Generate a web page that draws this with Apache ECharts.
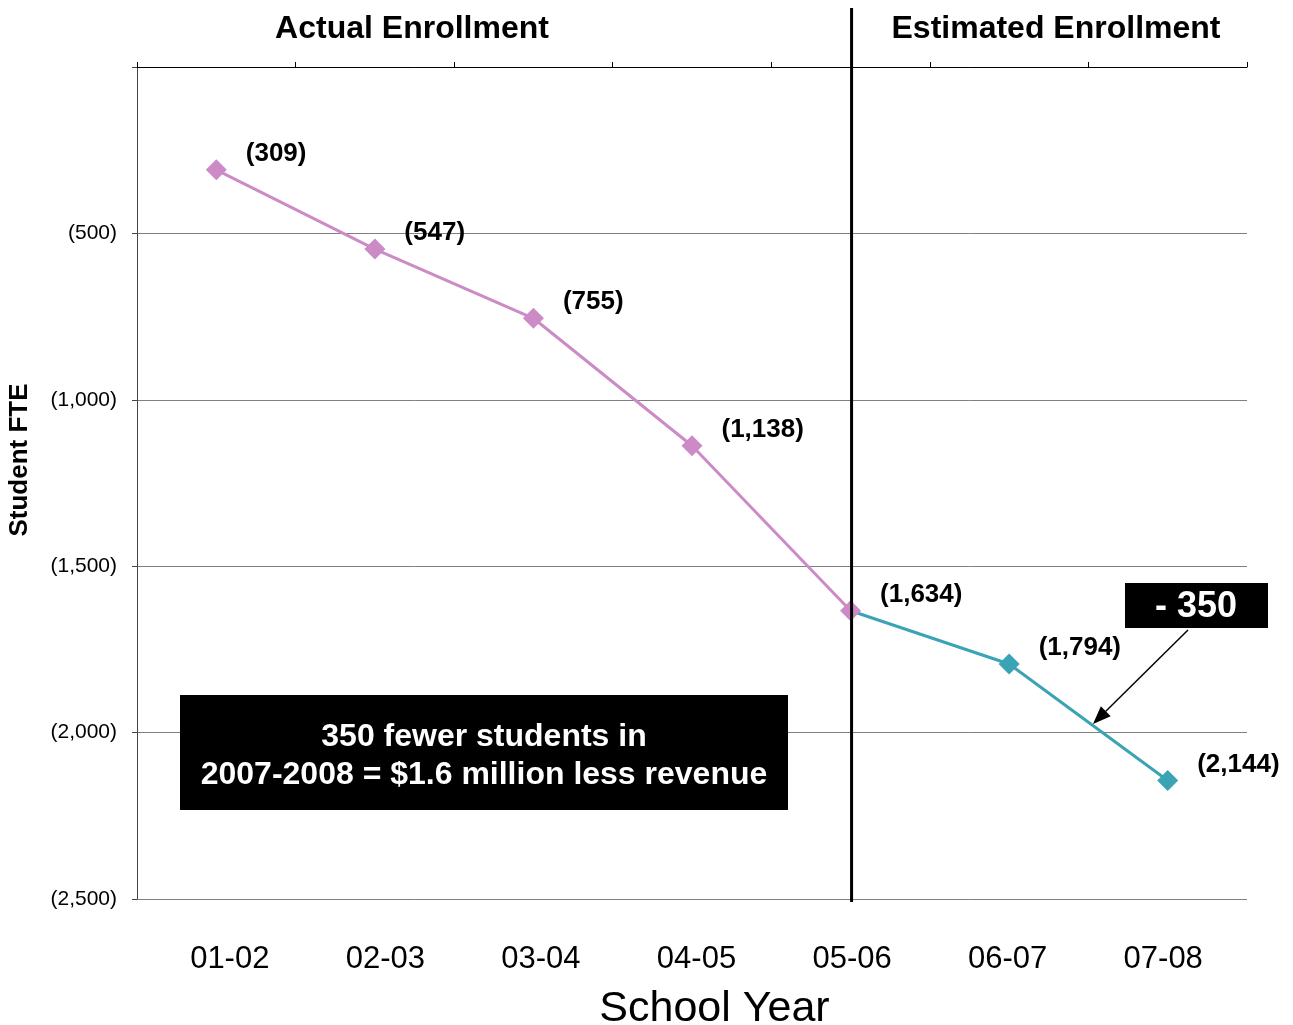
<!DOCTYPE html>
<html>
<head>
<meta charset="utf-8">
<script src="https://cdn.jsdelivr.net/npm/echarts@6/dist/echarts.min.js"></script>
<style>html,body{margin:0;padding:0;background:#fff;}#c{width:1293px;height:1025px;}</style>
</head>
<body>
<div id="c"></div>
<script>
const categories = ['01-02','02-03','03-04','04-05','05-06','06-07','07-08'];
const actualValues = [-309, -547, -755, -1138, -1634];
const estimatedValues = [-1794, -2144];
const yTicks = { min: -2500, max: 0, interval: 500 };

const FONT = '"Liberation Sans", Arial, sans-serif';
const fmt = v => '(' + Math.abs(v).toLocaleString('en-US') + ')';

const actualData = categories.map((c, i) => i < actualValues.length ? actualValues[i] : null);
const joinIdx = actualValues.length - 1;
const estimatedData = categories.map((c, i) => {
  if (i < joinIdx) return null;
  if (i === joinIdx) return { value: actualValues[joinIdx], symbol: 'none', label: { show: false } };
  return estimatedValues[i - actualValues.length];
});

const chart = echarts.init(document.getElementById('c'));
const labelStyle = {
  show: true, position: 'right', distance: 5, offset: [14, -16],
  formatter: p => fmt(p.value), fontFamily: FONT, fontWeight: 'bold', fontSize: 26, color: '#000'
};
chart.setOption({
  animation: false,
  backgroundColor: '#fff',
  grid: [
    { left: 137, right: 46, top: 67, bottom: 126, outerBoundsMode: 'none', containLabel: false },
    { left: 152, right: 52, top: 67, bottom: 126, outerBoundsMode: 'none', containLabel: false }
  ],
  xAxis: [
    { type: 'category', gridIndex: 0, data: categories, position: 'top', boundaryGap: true,
      axisLine: { show: true, lineStyle: { color: '#000', width: 1 } },
      axisTick: { show: true, inside: false, length: 5, lineStyle: { color: '#000' } },
      axisLabel: { show: false }, splitLine: { show: false } },
    { type: 'category', gridIndex: 1, data: categories, position: 'bottom',
      axisLine: { show: false }, axisTick: { show: false }, splitLine: { show: false },
      axisLabel: { margin: 45, fontFamily: FONT, fontSize: 31, color: '#000' },
      name: 'School Year', nameLocation: 'middle', nameGap: 89,
      nameTextStyle: { fontFamily: FONT, fontSize: 43, color: '#000', padding: [0, 0, 0, 36] } }
  ],
  yAxis: [
    { type: 'value', gridIndex: 0, min: yTicks.min, max: yTicks.max, interval: yTicks.interval,
      axisLine: { show: true, lineStyle: { color: '#444', width: 1 } },
      axisTick: { show: true, inside: false, length: 5, lineStyle: { color: '#444' } },
      axisLabel: { margin: 20, fontFamily: FONT, fontSize: 21, color: '#000',
        formatter: v => v === 0 ? '' : fmt(v) },
      splitLine: { show: true, lineStyle: { color: '#808080', width: 1 } } },
    { type: 'value', gridIndex: 1, min: yTicks.min, max: yTicks.max, show: false }
  ],
  series: [
    { name: 'Estimated', type: 'line', xAxisIndex: 0, yAxisIndex: 0, data: estimatedData,
      z: 2, symbol: 'diamond', symbolSize: 21, connectNulls: false,
      lineStyle: { color: '#3BA4B4', width: 3 }, itemStyle: { color: '#3BA4B4' },
      label: labelStyle },
    { name: 'Actual', type: 'line', xAxisIndex: 0, yAxisIndex: 0, data: actualData,
      z: 3, symbol: 'diamond', symbolSize: 21,
      lineStyle: { color: '#CC8BC6', width: 3 }, itemStyle: { color: '#CC8BC6' },
      label: labelStyle }
  ]
});

const divX = chart.convertToPixel({ xAxisIndex: 0 }, categories[joinIdx]) + 1;
const tip = [1093, 724], tail = [1188, 630];
const dx = tip[0] - tail[0], dy = tip[1] - tail[1], L = Math.hypot(dx, dy);
const ux = dx / L, uy = dy / L, hl = 18, hw = 7;
const bx = tip[0] - ux * hl, by = tip[1] - uy * hl;
chart.setOption({
  graphic: [
    { type: 'line', shape: { x1: divX, y1: 8, x2: divX, y2: 902 }, style: { stroke: '#000', lineWidth: 3 }, z: 10 },
    { type: 'text', x: 412, y: 29, style: { text: 'Actual Enrollment', fontFamily: FONT, fontSize: 32, fontWeight: 'bold', fill: '#000', align: 'center', verticalAlign: 'middle' } },
    { type: 'text', x: 1056, y: 29, style: { text: 'Estimated Enrollment', fontFamily: FONT, fontSize: 32, fontWeight: 'bold', fill: '#000', align: 'center', verticalAlign: 'middle' } },
    { type: 'text', x: 20, y: 460, rotation: Math.PI / 2, style: { text: 'Student FTE', fontFamily: FONT, fontSize: 26, fontWeight: 'bold', fill: '#000', align: 'center', verticalAlign: 'middle' } },
    { type: 'rect', shape: { x: 180, y: 695, width: 608, height: 115 }, style: { fill: '#000' }, z: 20 },
    { type: 'text', x: 484, y: 756, z: 21, style: { text: '350 fewer students in\n2007-2008 = $1.6 million less revenue', fontFamily: FONT, fontSize: 32, fontWeight: 'bold', lineHeight: 38, fill: '#fff', align: 'center', verticalAlign: 'middle' } },
    { type: 'rect', shape: { x: 1125, y: 583, width: 143, height: 45 }, style: { fill: '#000' }, z: 20 },
    { type: 'text', x: 1196, y: 607, z: 21, style: { text: '- 350', fontFamily: FONT, fontSize: 36, fontWeight: 'bold', fill: '#fff', align: 'center', verticalAlign: 'middle' } },
    { type: 'line', shape: { x1: tail[0], y1: tail[1], x2: bx, y2: by }, style: { stroke: '#000', lineWidth: 1.5 }, z: 20 },
    { type: 'polygon', shape: { points: [tip, [bx - uy * hw, by + ux * hw], [bx + uy * hw, by - ux * hw]] }, style: { fill: '#000' }, z: 20 }
  ]
});
</script>
</body>
</html>
